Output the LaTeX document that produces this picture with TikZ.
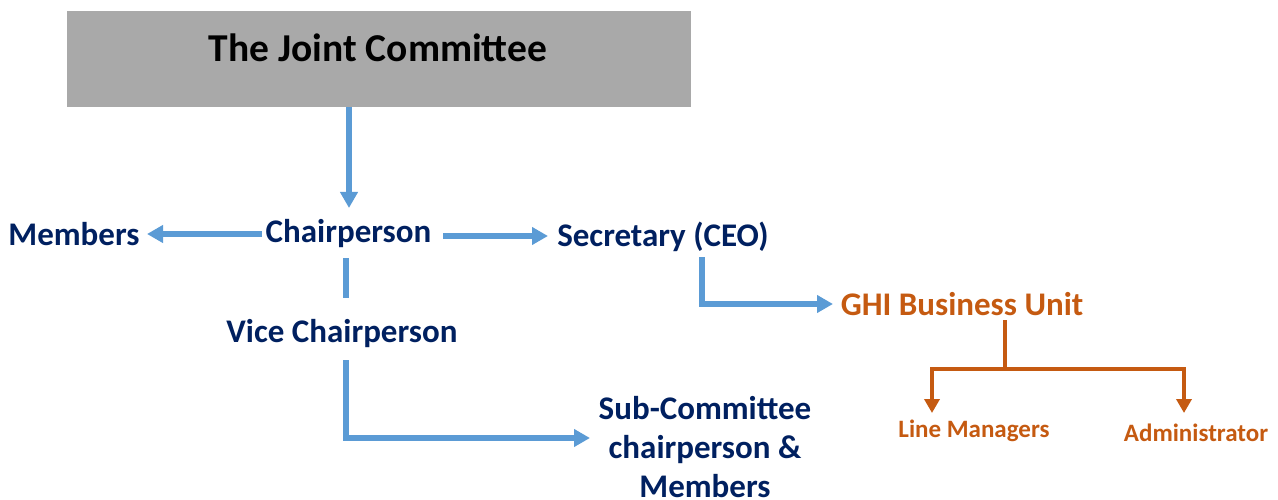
\documentclass[tikz,border=0pt]{standalone}
\usepackage{fontspec}
\setmainfont{Carlito}
\usetikzlibrary{arrows.meta}
\definecolor{navy}{HTML}{002060}
\definecolor{bluearr}{HTML}{5B9BD5}
\definecolor{orng}{HTML}{C55A11}
\definecolor{boxgray}{HTML}{A9A9A9}
\tikzset{
  lbl/.style={text=navy, font=\fontsize{33}{38}\selectfont\bfseries, inner sep=0pt},
  olbl/.style={text=orng, font=\fontsize{33}{38}\selectfont\bfseries, inner sep=0pt},
  slbl/.style={text=orng, font=\fontsize{25}{29}\selectfont\bfseries, inner sep=0pt},
  barr/.style={draw=bluearr, line width=5.5pt, -{Triangle[length=16pt,width=17pt]}},
  bline/.style={draw=bluearr, line width=5.5pt},
  oarr/.style={draw=orng, line width=3.8pt, -{Triangle[length=14pt,width=15pt]}},
  oline/.style={draw=orng, line width=3.8pt},
}
\begin{document}
\begin{tikzpicture}[x=1pt,y=-1pt]
\useasboundingbox (0,0) rectangle (1278,500);
\fill[boxgray] (67,11) rectangle (691,107);
\node[text=black, font=\fontsize{39.5}{44}\selectfont\bfseries, inner sep=0pt] (jc) at (378,48) {The Joint Committee};
\coordinate (jcb) at (349,107);
\node[lbl] (chair) at (348.5,234) {Chairperson};
\node[lbl] (mem) at (74,234) {Members};
\node[lbl] (sec) at (663,237) {Secretary (CEO)};
\node[lbl] (vice) at (342,334) {Vice Chairperson};
\node[lbl, align=center, font=\fontsize{33}{39}\selectfont\bfseries] (sub) at (705,447) {Sub-Committee\\chairperson \&\\Members};
\node[olbl] (ghi) at (962,304) {GHI Business Unit};
\node[slbl] (lm) at (974,431) {Line Managers};
\node[slbl] (adm) at (1196,433) {Administrator};

\draw[barr] (jcb) -- (349,208);
\draw[barr] (262,234) -- (147,234);
\draw[barr] (443,236) -- (548,236);
\draw[bline] (346,258) -- (346,298);
\draw[barr] (346,360) -- (346,438) -- (590,438);
\draw[barr] (702,257) -- (702,304) -- (833,304);
\draw[oline] (1005,320) -- (1005,369);
\draw[oarr] (1005,369) -- (932,369) -- (932,413);
\draw[oarr] (1005,369) -- (1184,369) -- (1184,413);
\end{tikzpicture}
\end{document}
